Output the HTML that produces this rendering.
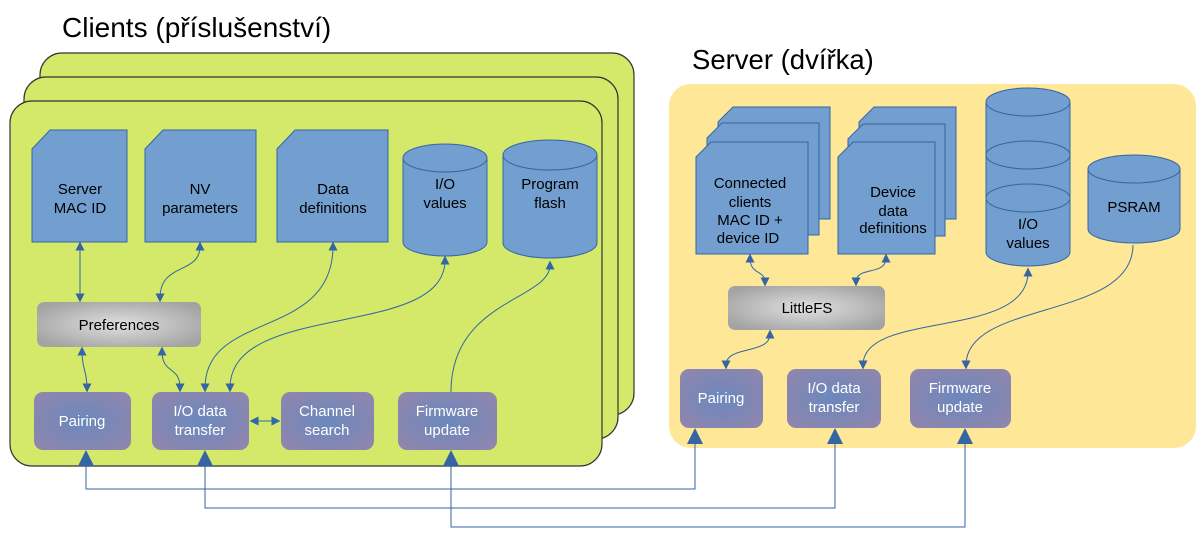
<!DOCTYPE html>
<html><head><meta charset="utf-8"><style>
html,body{margin:0;padding:0;background:#fff;}
svg{display:block;font-family:"Liberation Sans",sans-serif;}
</style></head><body>
<svg width="1204" height="544" viewBox="0 0 1204 544" xmlns="http://www.w3.org/2000/svg">
<defs>
<radialGradient id="pu" cx="50%" cy="50%" r="60%"><stop offset="0" stop-color="#6a88bd"/><stop offset="1" stop-color="#8d86ae"/></radialGradient>
<radialGradient id="gr" cx="50%" cy="50%" r="60%"><stop offset="0" stop-color="#e0e0e0"/><stop offset="1" stop-color="#a3a3a3"/></radialGradient>
<marker id="a" markerWidth="9" markerHeight="9" refX="4.5" refY="4.5" orient="auto-start-reverse" markerUnits="userSpaceOnUse"><path d="M0,0 L9,4.5 L0,9 z" fill="#3465a4"/></marker>
<marker id="b" markerWidth="16" markerHeight="16" refX="14" refY="8" orient="auto" markerUnits="userSpaceOnUse"><path d="M0,0 L16,8 L0,16 z" fill="#3465a4"/></marker>
</defs>
<text x="62" y="37" font-size="28" fill="#000">Clients (příslušenství)</text>
<text x="692" y="69" font-size="27.5" fill="#000">Server (dvířka)</text>
<g fill="#d4e96a" stroke="#333" stroke-width="1.2">
<rect x="40" y="53" width="594" height="362" rx="22"/>
<rect x="24" y="77" width="594" height="362" rx="22"/>
<rect x="10" y="101" width="592" height="365" rx="22"/>
</g>
<rect x="669" y="84" width="527" height="364" rx="22" fill="#fee796"/>
<g fill="#729fcf" stroke="#3465a4" stroke-width="1">
<path d="M32,149 L50,130 L127,130 L127,242 L32,242z"/>
<path d="M145,149 L163,130 L256,130 L256,242 L145,242z"/>
<path d="M277,149 L295,130 L388,130 L388,242 L277,242z"/>
<path d="M403,158 v84 a42,14 0 0 0 84,0 v-84"/><ellipse cx="445" cy="158" rx="42" ry="14"/>
<path d="M503,155 v88 a47,15 0 0 0 94,0 v-88"/><ellipse cx="550" cy="155" rx="47" ry="15"/>
<path d="M718,122 L733,107 L830,107 L830,219 L718,219z"/>
<path d="M707,138 L722,123 L819,123 L819,235 L707,235z"/>
<path d="M696,157 L711,142 L808,142 L808,254 L696,254z"/>
<path d="M859,122 L874,107 L956,107 L956,219 L859,219z"/>
<path d="M848,139 L863,124 L945,124 L945,236 L848,236z"/>
<path d="M838,157 L853,142 L935,142 L935,254 L838,254z"/>
<path d="M986,102 v150 a42,14 0 0 0 84,0 v-150"/><ellipse cx="1028" cy="102" rx="42" ry="14"/>
<ellipse cx="1028" cy="155" rx="42" ry="14"/>
<ellipse cx="1028" cy="198" rx="42" ry="14"/>
<path d="M1088,169 v60 a46,14 0 0 0 92,0 v-60"/><ellipse cx="1134" cy="169" rx="46" ry="14"/>
</g>
<g font-size="15" fill="#000" text-anchor="middle">
<text x="80" y="194">Server</text><text x="80" y="213">MAC ID</text>
<text x="200" y="194">NV</text><text x="200" y="213">parameters</text>
<text x="333" y="194">Data</text><text x="333" y="213">definitions</text>
<text x="445" y="189">I/O</text><text x="445" y="208">values</text>
<text x="550" y="189">Program</text><text x="550" y="208">flash</text>
<text x="750" y="188">Connected</text><text x="750" y="207">clients</text><text x="750" y="225">MAC ID +</text><text x="748" y="243">device ID</text>
<text x="893" y="197">Device</text><text x="893" y="216">data</text><text x="893" y="233">definitions</text>
<text x="1028" y="229">I/O</text><text x="1028" y="248">values</text>
<text x="1134" y="212">PSRAM</text>
</g>
<rect x="37" y="302" width="164" height="45" rx="7" fill="url(#gr)"/>
<text x="119" y="330" font-size="15" text-anchor="middle">Preferences</text>
<rect x="728" y="286" width="157" height="44" rx="7" fill="url(#gr)"/>
<text x="807" y="313" font-size="15" text-anchor="middle">LittleFS</text>
<g fill="url(#pu)">
<rect x="34" y="392" width="97" height="58" rx="9"/>
<rect x="152" y="392" width="97" height="58" rx="9"/>
<rect x="281" y="392" width="93" height="58" rx="9"/>
<rect x="398" y="392" width="99" height="58" rx="9"/>
<rect x="680" y="369" width="83" height="59" rx="9"/>
<rect x="787" y="369" width="94" height="59" rx="9"/>
<rect x="910" y="369" width="101" height="59" rx="9"/>
</g>
<g font-size="15" fill="#fff" text-anchor="middle">
<text x="82" y="426">Pairing</text>
<text x="200" y="416">I/O data</text><text x="200" y="435">transfer</text>
<text x="327" y="416">Channel</text><text x="327" y="435">search</text>
<text x="447" y="416">Firmware</text><text x="447" y="435">update</text>
<text x="721" y="403">Pairing</text>
<text x="834" y="393">I/O data</text><text x="834" y="412">transfer</text>
<text x="960" y="393">Firmware</text><text x="960" y="412">update</text>
</g>
<g fill="none" stroke="#3465a4" stroke-width="1" marker-start="url(#a)" marker-end="url(#a)">
<path d="M80,246 L80,298"/>
<path d="M200,246 C200,275 160,262 160,298"/>
<path d="M82,351 C82,370 87,370 87,388"/>
<path d="M162,351 C162,375 180,365 180,388"/>
<path d="M333,246 C333,340 205,310 205,388"/>
<path d="M445,260 C445,340 230,300 230,388"/>
<path d="M254,421 L276,421"/>
<path d="M750,258 C750,275 765,270 765,282"/>
<path d="M886,258 C886,276 856,266 856,282"/>
<path d="M770,334 C770,355 726,345 726,365"/>
<path d="M1028,272 C1028,340 863,310 863,365"/>
</g>
<g fill="none" stroke="#3465a4" stroke-width="1">
<path d="M451,392 C451,300 550,300 550,265" marker-end="url(#a)"/>
<path d="M1133,245 C1133,320 966,300 966,365" marker-end="url(#a)"/>
<path d="M86,489 L695,489 L695,430" marker-end="url(#b)"/>
<path d="M695,489 L86,489 L86,452" marker-end="url(#b)"/>
<path d="M205,508 L835,508 L835,430" marker-end="url(#b)"/>
<path d="M835,508 L205,508 L205,452" marker-end="url(#b)"/>
<path d="M451,527 L965,527 L965,430" marker-end="url(#b)"/>
<path d="M965,527 L451,527 L451,452" marker-end="url(#b)"/>
</g>
</svg>
</body></html>
